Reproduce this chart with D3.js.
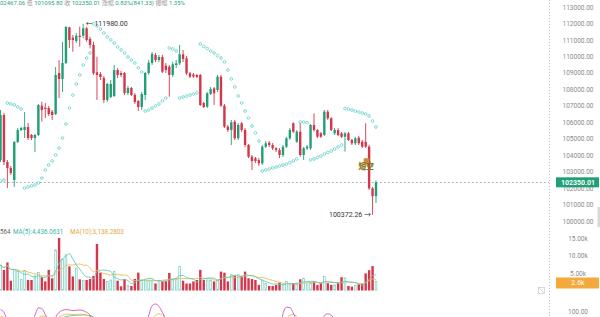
<!DOCTYPE html>
<html><head><meta charset="utf-8">
<script src="https://cdn.jsdelivr.net/npm/d3@7/dist/d3.min.js"></script>
<style>html,body{margin:0;padding:0;background:#fff;overflow:hidden}svg{display:block}</style>
</head><body><svg id="c" width="600" height="317"></svg>
<script>
// ---- data ----
const opens=[103706,106440,103584,103220,102491,104799,105528,105528,105711,105225,105042,105225,107004,106883,106865,106640,106500,108991,108627,109599,111767,111135,110935,111257,111257,111707,111057,110692,109034,108930,108687,107351,107533,107594,109173,108991,108991,107776,108080,107655,107290,106926,107655,108991,109599,110085,109781,109963,109434,109374,108870,109477,109580,110127,109884,108973,108900,108870,108870,107169,106944,107715,108061,107958,108766,107004,105729,105528,106032,105024,105935,105528,104617,103906,103809,103706,103505,104514,104757,104617,104417,104313,104010,104514,105024,105935,104817,105425,104010,104417,104417,105832,105528,105328,105225,106640,106239,105328,105528,105328,105121,105328,104921,104720,105060,104817,104817,104514,101987,101509];
const highs=[106743,106561,103706,103341,104860,105650,105711,106622,105954,105285,105285,107108,107247,107169,106986,106743,109356,109781,110874,111846,111804,111300,111421,111804,111980,111804,111196,110892,109981,109052,108809,108384,108566,109477,109295,109113,109052,108201,108141,107776,107351,107837,109052,109781,110267,110206,110085,110085,109599,109477,109659,109781,110692,110388,110024,109052,108991,108930,108930,107229,107837,108141,108141,108870,108870,107108,105832,106136,106136,105954,106014,105650,104678,104010,103888,103827,104617,104860,104860,104739,104496,104435,104617,105103,105650,105996,105528,105935,104496,104617,105893,106543,105589,105407,106743,106743,106318,105650,105650,105407,105407,105407,104982,105103,105164,104921,105935,104617,102066,102467.06];
const lows=[103584,103402,102005,102795,102066,104739,105468,105042,104921,104921,104192,105164,106032,106257,106379,106136,106440,107472,107837,109538,110510,110285,110814,110589,111099,110892,110491,108870,107351,108566,107169,107229,107472,107533,108687,108748,107655,107655,107594,107108,106683,106743,107351,108870,109477,109659,109659,108991,108991,107551,108748,109295,109477,109659,108870,108687,108687,108687,106986,106865,106865,107655,107047,107837,106926,105650,105407,104617,104921,104921,105407,104496,103827,103098,103524,103341,103402,104435,104496,104313,104192,103827,103888,104435,104921,105346,104739,103906,103706,104313,104313,105425,105042,105042,105164,106136,105468,105225,105164,105042,104210,104860,104617,104617,104617,104435,104435,101883,100372.26,101095.80];
const closes=[106440,103584,103220,102916,104799,105528,105650,105711,105042,105042,105225,107047,106743,106804,106500,106440,108870,108627,109599,111786,110996,110996,111257,111178,111707,110996,110692,108973,108870,108748,107351,108323,108323,109173,108870,108870,107776,108080,107655,107229,106926,107715,108991,109617,110145,109781,109963,109070,109173,108870,109520,109580,110127,109842,108973,108766,108778,108748,107047,106926,107758,108019,107758,108766,107004,105729,105528,105996,105024,105832,105528,104617,103906,103645,103645,103505,104514,104720,104617,104417,104313,104010,104514,105024,105528,105425,105425,104010,104417,104514,105832,105528,105121,105121,106640,106239,105528,105528,105225,105121,105328,104921,104720,105024,104720,104514,104514,101987,101508.68,102350.01];
const volumes=[7300,5900,8000,2800,6000,5400,3200,5700,3000,3000,4200,5100,3800,2600,5900,3500,11600,15000,9000,10200,6900,4000,6400,3200,2900,3000,3300,4200,13300,5100,3300,2600,3000,5400,2800,1200,3300,1500,1300,3300,5100,3000,3000,3000,3000,2000,2800,2600,2800,5000,3300,3500,6900,2800,2000,2000,2600,3000,5900,3000,3000,3000,2600,3000,5400,5100,2600,4500,4200,4500,4200,5400,3500,3300,3000,1600,3000,2000,1300,1300,1600,2300,1600,2600,1600,1900,2100,3200,3500,1900,2100,2600,1600,2100,4000,2100,1600,1600,2100,3800,3600,1300,1100,1400,1800,1900,4900,5800,6980,2640];
const sar=[102430,102490,107170,107110,107050,106930,106800,102000,102070,102130,102190,102310,102610,103100,103400,103650,104010,104430,105040,105890,106860,107650,108320,108870,109480,109900,110210,111980,111850,111660,111420,111180,111000,110810,110570,110390,110210,109960,109780,109600,109300,109050,106680,106740,106860,106990,107110,107290,107470,110510,110450,110330,107470,107530,107590,107650,107720,107780,110750,110600,110480,110330,110210,110050,109900,109660,109170,108630,108140,107590,107170,106680,106260,105770,105350,104860,103040,103100,103160,103220,103280,103340,103400,103460,103550,103650,103770,106010,106010,105980,103710,103770,103860,103950,104070,104160,104250,104370,104500,104620,106830,106800,106740,106680,106620,106560,106500,106380,106080,105710];
const kdjJ=[104,96,72,45,38,50,60,62,55,60,88,109,107,90,72,62,82,96,102,104,103,101,102,103,101,96,88,60,42,30,20,28,38,52,50,44,30,25,18,12,8,22,55,86,115,120,113,96,78,60,58,62,70,66,50,40,35,32,20,15,25,35,32,42,30,15,8,12,10,18,15,8,2,0,2,5,25,40,45,42,40,45,92,111,110,94,72,48,40,45,62,70,62,60,86,92,88,75,62,55,50,42,35,40,35,30,28,5,-10,5];
const kdjK=[85,82,75,62,52,50,53,56,56,57,66,80,86,84,78,72,75,82,88,91,91,90,90,91,90,88,84,74,62,52,42,38,38,43,45,44,40,35,30,25,20,21,32,50,72,88,92,88,80,70,64,63,66,66,60,53,47,42,34,28,27,30,31,35,33,26,20,17,15,16,16,13,9,6,5,5,12,22,30,34,36,39,58,78,88,90,84,70,60,55,58,62,62,61,70,78,81,79,73,67,61,55,48,45,42,38,35,25,12,10];
const kdjD=[78,79,78,72,66,60,58,57,57,57,60,67,73,77,77,75,75,78,81,84,86,87,88,88,89,88,87,83,76,68,59,52,48,46,46,45,43,41,37,33,29,26,28,35,48,62,72,77,78,75,71,68,67,67,64,61,56,51,46,40,36,34,33,34,34,31,27,24,21,19,18,16,14,11,9,8,9,14,19,24,28,32,41,53,65,73,77,75,70,65,63,62,62,62,65,69,73,75,74,72,68,64,59,54,50,46,42,36,28,22];
const priceTicks=[100000,101000,102000,103000,104000,105000,106000,107000,108000,109000,110000,111000,112000,113000];
const volTicks=[5000,10000,15000];
const kdjTicks=[100];
const lastPrice=102350.01, lastVolLabel="2.6k";
const peakIndex=24, peakValue=111980, troughIndex=108, troughValue=100372.26;
const signalIndex=106, signalLevel=103300, signalText="短空";
const headerParts=[["102467.06","v"],[" 低 ","l"],["101095.80","v"],[" 收 ","l"],["102350.01","v"],[" 涨幅 ","l"],["0.83%(841.33)","v"],[" 振幅 ","l"],["1.35%","v"]];
const volLegend=[["564","#666",0],["MA(5):4,436.0631","#3ab5a4",13],["MA(10):3,138.2803","#e5a73c",70]];

// ---- drawing ----
const N=opens.length;
const svg=d3.select('#c');
const FONT="Roboto, 'Noto Sans CJK SC', sans-serif";
const x=d3.scaleLinear().domain([0,N-1]).range([0.5,376]);
const y=d3.scaleLinear().domain([100000,113000]).range([221,7]);
const yv=d3.scaleLinear().domain([0,15000]).range([290.5,238]);
const yk=d3.scaleLinear().domain([80,120]).range([318,304]);
const RED='#d4364b', GREEN='#1f9f76', VGREEN='#6fcfc1', SARC='#6fd6ce';
const bw=2.4;
const idx=d3.range(N);
const up=i=>closes[i]>=opens[i];

// dotted guides
svg.append('line').attr('x1',549.5).attr('x2',549.5).attr('y1',0).attr('y2',317)
  .attr('stroke','#c2c2c2').attr('stroke-width',1).attr('stroke-dasharray','1,2');
svg.append('line').attr('x1',0).attr('x2',549).attr('y1',Math.round(y(lastPrice))+0.5).attr('y2',Math.round(y(lastPrice))+0.5)
  .attr('stroke','#8db3ae').attr('stroke-width',1).attr('stroke-dasharray','1.5,2.5');

// KDJ lines (bottom pane)
const kdjLine=arr=>d3.line().x((d,i)=>x(i)).y(d=>yk(d)).curve(d3.curveMonotoneX)(arr);
[[kdjD,'#57c79f'],[kdjK,'#e8bb4c'],[kdjJ,'#cf55b4']].forEach(([a,c])=>{
  svg.append('path').attr('d',kdjLine(a)).attr('fill','none').attr('stroke',c).attr('stroke-width',0.9);
});

// volume bars
svg.append('g').selectAll('rect').data(idx).join('rect')
  .attr('x',i=>x(i)-bw/2+(up(i)?0.35:0)).attr('width',i=>up(i)?bw-0.7:bw)
  .attr('y',i=>yv(volumes[i])).attr('height',i=>Math.max(0.5,yv(0)-yv(volumes[i])-(up(i)?0.35:0)))
  .attr('fill',i=>up(i)?'#fff':RED).attr('stroke',i=>up(i)?VGREEN:'none').attr('stroke-width',0.7);

// volume MAs
const ma=(n)=>idx.map(i=>d3.mean(volumes.slice(Math.max(0,i-n+1),i+1)));
const vLine=d3.line().x((d,i)=>x(i)).y(d=>yv(d)).curve(d3.curveMonotoneX);
svg.append('path').attr('d',vLine(ma(10))).attr('fill','none').attr('stroke','#efb955').attr('stroke-width',0.9);
svg.append('path').attr('d',vLine(ma(5))).attr('fill','none').attr('stroke','#62c9bb').attr('stroke-width',0.9);

// SAR
svg.append('g').selectAll('circle').data(idx).join('circle')
  .attr('cx',i=>x(i)).attr('cy',i=>y(sar[i])).attr('r',1.35)
  .attr('fill','#fff').attr('stroke',SARC).attr('stroke-width',0.9);

// candles
const cg=svg.append('g');
cg.selectAll('line').data(idx).join('line')
  .attr('x1',i=>x(i)).attr('x2',i=>x(i)).attr('y1',i=>y(highs[i])).attr('y2',i=>y(lows[i]))
  .attr('stroke',i=>up(i)?GREEN:RED).attr('stroke-width',0.9);
cg.selectAll('rect').data(idx).join('rect')
  .attr('x',i=>x(i)-bw/2).attr('width',bw)
  .attr('y',i=>y(Math.max(opens[i],closes[i])))
  .attr('height',i=>Math.max(0.8,Math.abs(y(opens[i])-y(closes[i]))))
  .attr('fill',i=>up(i)?GREEN:RED);

// peak / trough labels
svg.append('text').attr('x',x(peakIndex)+2.5).attr('y',y(peakValue)).attr('dy','0.35em')
  .attr('font-family',FONT).attr('font-size',7).attr('fill','#333').text('← '+d3.format('.2f')(peakValue));
svg.append('text').attr('x',x(troughIndex)-1.5).attr('y',y(troughValue)).attr('dy','0.35em').attr('text-anchor','end')
  .attr('font-family',FONT).attr('font-size',7).attr('fill','#333').text(d3.format('.2f')(troughValue)+' →');

// signal marker
const sx=x(signalIndex)+0.5, sy=y(signalLevel);
svg.append('rect').attr('x',sx-2.5).attr('y',sy-8.5).attr('width',5.5).attr('height',5.5).attr('fill','#cf8a36').attr('rx',0.8);
svg.append('text').attr('x',sx).attr('y',sy).attr('dy','0.35em').attr('text-anchor','middle')
  .attr('font-family',FONT).attr('font-size',7.5).attr('font-weight','bold').attr('fill','#a58a12')
  .attr('stroke','#6b5a08').attr('stroke-width',0.25).text(signalText);

// axes
function styleAxis(g){g.select('.domain').remove();g.selectAll('line').remove();
  g.attr('font-family',FONT).attr('font-size',6.5);
  g.selectAll('text').attr('x',0).attr('text-anchor','middle').attr('fill','#8a8a8a');}
svg.append('g').attr('transform','translate(578,0)')
  .call(d3.axisRight(y).tickValues(priceTicks).tickSize(0).tickFormat(d3.format('.2f'))).call(styleAxis);
svg.append('g').attr('transform','translate(578,0)')
  .call(d3.axisRight(yv).tickValues(volTicks).tickSize(0).tickFormat(d=>(d/1000).toFixed(2)+'k')).call(styleAxis);
svg.append('g').attr('transform','translate(578,0)')
  .call(d3.axisRight(yk).tickValues(kdjTicks).tickSize(0).tickFormat(d3.format('.2f'))).call(styleAxis);

// last price box
const lp=y(lastPrice);
svg.append('rect').attr('x',556).attr('y',lp-5).attr('width',43).attr('height',10).attr('fill','#1fa077');
svg.append('text').attr('x',578).attr('y',lp).attr('dy','0.35em').attr('text-anchor','middle')
  .attr('font-family',FONT).attr('font-size',7).attr('font-weight','bold').attr('fill','#fff').text(d3.format('.2f')(lastPrice));
// last volume box
svg.append('rect').attr('x',556).attr('y',277.5).attr('width',43).attr('height',11).attr('fill','#f3a93c');
svg.append('text').attr('x',578).attr('y',283).attr('dy','0.35em').attr('text-anchor','middle')
  .attr('font-family',FONT).attr('font-size',7).attr('fill','#fff').text(lastVolLabel);

// small ui bits
svg.append('rect').attr('x',538.5).attr('y',287.5).attr('width',6).attr('height',6).attr('fill','none').attr('stroke','#c8c8c8').attr('stroke-width',0.7);
svg.append('line').attr('x1',539.5).attr('y1',288.5).attr('x2',543.5).attr('y2',292.5).attr('stroke','#aaa').attr('stroke-width',0.6);
svg.append('rect').attr('x',597.5).attr('y',207).attr('width',2.5).attr('height',20).attr('fill','#d8d8d8');

// header
const ht=svg.append('text').attr('x',-3.4).attr('y',5).attr('font-family',FONT).attr('font-size',6).attr('xml:space','preserve');
headerParts.forEach(([t,k])=>ht.append('tspan').attr('fill',k==='v'?'#2aa67e':'#9a9a9a').text(t));
// volume legend
const vt=svg.append('text').attr('y',234.2).attr('font-family',FONT).attr('font-size',6.3);
volLegend.forEach(([t,c,px])=>vt.append('tspan').attr('x',px).attr('fill',c).text(t));
</script></body></html>
